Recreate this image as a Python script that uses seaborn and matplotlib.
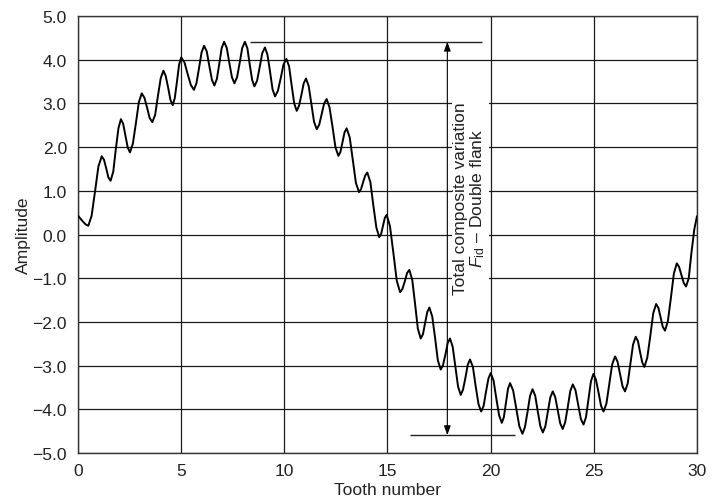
import matplotlib
matplotlib.use("Agg")
import matplotlib.pyplot as plt
import seaborn as sns
import pandas as pd

tooth = [
    0.00, 0.125, 0.25, 0.375, 0.50, 0.66, 0.83, 0.99, 1.15, 1.26, 1.37, 1.47,
    1.58, 1.71, 1.83, 1.96, 2.08, 2.19, 2.30, 2.41, 2.52, 2.66, 2.81, 2.95,
    3.09, 3.22, 3.35, 3.47, 3.60, 3.74, 3.87, 4.01, 4.14, 4.25, 4.37, 4.48,
    4.59, 4.69, 4.80, 4.90, 5.00, 5.16, 5.31, 5.47, 5.62, 5.74, 5.87, 5.99,
    6.11, 6.24, 6.36, 6.49, 6.61, 6.73, 6.85, 6.96, 7.08, 7.21, 7.33, 7.46,
    7.58, 7.71, 7.84, 7.96, 8.09, 8.21, 8.32, 8.44, 8.55, 8.68, 8.81, 8.93,
    9.06, 9.18, 9.31, 9.43, 9.55, 9.69, 9.83, 9.96, 10.10, 10.23, 10.35, 10.48,
    10.60, 10.71, 10.83, 10.94, 11.05, 11.18, 11.31, 11.44, 11.57, 11.69, 11.81, 11.93,
    12.05, 12.19, 12.34, 12.48, 12.62, 12.72, 12.82, 12.92, 13.02, 13.17, 13.32, 13.47,
    13.62, 13.72, 13.82, 13.92, 14.02, 14.17, 14.31, 14.46, 14.60, 14.69, 14.78, 14.87,
    14.96, 15.12, 15.29, 15.45, 15.61, 15.72, 15.84, 15.95, 16.06, 16.20, 16.34, 16.47,
    16.61, 16.72, 16.82, 16.93, 17.03, 17.17, 17.31, 17.44, 17.58, 17.69, 17.81, 17.92,
    18.03, 18.16, 18.29, 18.42, 18.55, 18.66, 18.78, 18.89, 19.00, 19.14, 19.27, 19.41,
    19.54, 19.66, 19.77, 19.89, 20.00, 20.14, 20.27, 20.41, 20.54, 20.64, 20.74, 20.84,
    20.94, 21.09, 21.24, 21.39, 21.54, 21.66, 21.79, 21.91, 22.03, 22.16, 22.28, 22.41,
    22.53, 22.65, 22.77, 22.89, 23.01, 23.13, 23.25, 23.37, 23.49, 23.61, 23.74, 23.86,
    23.98, 24.11, 24.24, 24.37, 24.50, 24.62, 24.74, 24.86, 24.98, 25.10, 25.23, 25.35,
    25.47, 25.61, 25.75, 25.89, 26.03, 26.15, 26.27, 26.39, 26.51, 26.64, 26.77, 26.90,
    27.03, 27.14, 27.24, 27.35, 27.45, 27.59, 27.74, 27.88, 28.02, 28.13, 28.24, 28.34,
    28.45, 28.59, 28.74, 28.88, 29.02, 29.13, 29.25, 29.36, 29.47, 29.60, 29.73, 29.87,
    30.00,
]
amplitude = [
    0.43, 0.36, 0.29, 0.23, 0.20, 0.43, 1.00, 1.56, 1.79, 1.71, 1.51, 1.31,
    1.23, 1.44, 1.94, 2.43, 2.64, 2.53, 2.26, 1.99, 1.88, 2.08, 2.56, 3.03,
    3.23, 3.13, 2.90, 2.67, 2.57, 2.74, 3.16, 3.58, 3.75, 3.63, 3.36, 3.08,
    2.96, 3.12, 3.51, 3.89, 4.05, 3.94, 3.68, 3.42, 3.31, 3.46, 3.82, 4.17,
    4.32, 4.19, 3.87, 3.54, 3.41, 3.56, 3.91, 4.26, 4.41, 4.27, 3.94, 3.60,
    3.46, 3.60, 3.94, 4.27, 4.41, 4.26, 3.90, 3.54, 3.39, 3.52, 3.84, 4.15,
    4.28, 4.12, 3.72, 3.32, 3.16, 3.29, 3.59, 3.89, 4.02, 3.85, 3.43, 3.00,
    2.83, 2.94, 3.20, 3.46, 3.57, 3.40, 2.99, 2.58, 2.41, 2.51, 2.76, 3.00,
    3.10, 2.91, 2.45, 1.99, 1.80, 1.89, 2.12, 2.34, 2.43, 2.22, 1.70, 1.18,
    0.97, 1.04, 1.20, 1.35, 1.42, 1.20, 0.68, 0.16, -0.06, 0.01, 0.20, 0.38,
    0.45, 0.19, -0.44, -1.06, -1.32, -1.25, -1.07, -0.88, -0.81, -1.04, -1.60, -2.15,
    -2.38, -2.28, -2.03, -1.77, -1.67, -1.88, -2.38, -2.88, -3.09, -2.99, -2.74, -2.48,
    -2.38, -2.57, -3.03, -3.48, -3.67, -3.55, -3.27, -2.98, -2.86, -3.03, -3.46, -3.88,
    -4.05, -3.92, -3.61, -3.30, -3.17, -3.34, -3.74, -4.14, -4.31, -4.18, -3.86, -3.53,
    -3.40, -3.57, -3.98, -4.39, -4.56, -4.41, -4.05, -3.69, -3.54, -3.69, -4.04, -4.39,
    -4.53, -4.39, -4.06, -3.73, -3.59, -3.72, -4.02, -4.32, -4.45, -4.30, -3.94, -3.58,
    -3.43, -3.56, -3.89, -4.22, -4.35, -4.18, -3.77, -3.36, -3.19, -3.32, -3.62, -3.92,
    -4.05, -3.87, -3.42, -2.97, -2.79, -2.91, -3.19, -3.47, -3.59, -3.41, -2.97, -2.52,
    -2.34, -2.44, -2.69, -2.93, -3.03, -2.82, -2.31, -1.80, -1.59, -1.68, -1.90, -2.11,
    -2.20, -1.98, -1.43, -0.89, -0.66, -0.74, -0.93, -1.11, -1.19, -1.00, -0.42, 0.12,
    0.42,
]

x_ticks = [0, 5, 10, 15, 20, 25, 30]
y_ticks = [-5.0, -4.0, -3.0, -2.0, -1.0, 0.0, 1.0, 2.0, 3.0, 4.0, 5.0]
note_lines = ["Total composite variation", r"$F_{\rm id}$ – Double flank"]

sns.set_style("white")
plt.rcParams["font.family"] = ["Liberation Sans", "DejaVu Sans"]
plt.rcParams["mathtext.fontset"] = "custom"
plt.rcParams["mathtext.rm"] = "Liberation Sans"
plt.rcParams["mathtext.it"] = "Liberation Sans:italic"

df = pd.DataFrame({"tooth": tooth, "amplitude": amplitude})

fig = plt.figure(figsize=(7.11, 5.02), dpi=100)
ax = fig.add_axes([0.1097, 0.0956, 0.8706, 0.8705])

sns.lineplot(data=df, x="tooth", y="amplitude", estimator=None,
             color="black", lw=1.4, ax=ax, zorder=4)

fs = 12.6
ax.set_xlim(0, 30)
ax.set_ylim(-5, 5)
ax.set_xticks(x_ticks)
ax.set_xticklabels([str(v) for v in x_ticks])
ax.set_yticks(y_ticks)
ax.set_yticklabels([f"{v:.1f}".replace("-", "\u2212") for v in y_ticks])
ax.grid(True, color="#1a1a1a", lw=0.9)
ax.set_axisbelow(True)
for sp in ax.spines.values():
    sp.set_color("#333333")
    sp.set_linewidth(1.0)
ax.tick_params(axis="x", length=0, pad=7, labelsize=fs, labelcolor="#222222")
ax.tick_params(axis="y", length=0, pad=8, labelsize=fs, labelcolor="#222222")
ax.set_xlabel("Tooth number", fontsize=fs, labelpad=3, color="#222222")
ax.set_ylabel("Amplitude", fontsize=fs, labelpad=1, color="#222222")

# total composite variation markers
top = max(amplitude)
bottom = min(amplitude)
ax.hlines(top, 8.35, 19.58, color="#222222", lw=1.0, zorder=3)
ax.hlines(bottom - 0.03, 16.1, 21.2, color="#222222", lw=1.0, zorder=3)
ax.annotate("", xy=(17.9, top), xytext=(17.9, bottom - 0.03),
            arrowprops=dict(arrowstyle="<|-|>,head_length=0.55,head_width=0.2",
                            color="black", lw=0.8, shrinkA=0, shrinkB=0),
            zorder=5)
ax.text(19.0, 0.84, "\n".join(note_lines), rotation=90, ha="center",
        va="center", multialignment="center", fontsize=fs, linespacing=1.05,
        color="#222222",
        bbox=dict(fc="white", ec="none", pad=1.5), zorder=3)

fig.savefig("out.png", dpi=100)
